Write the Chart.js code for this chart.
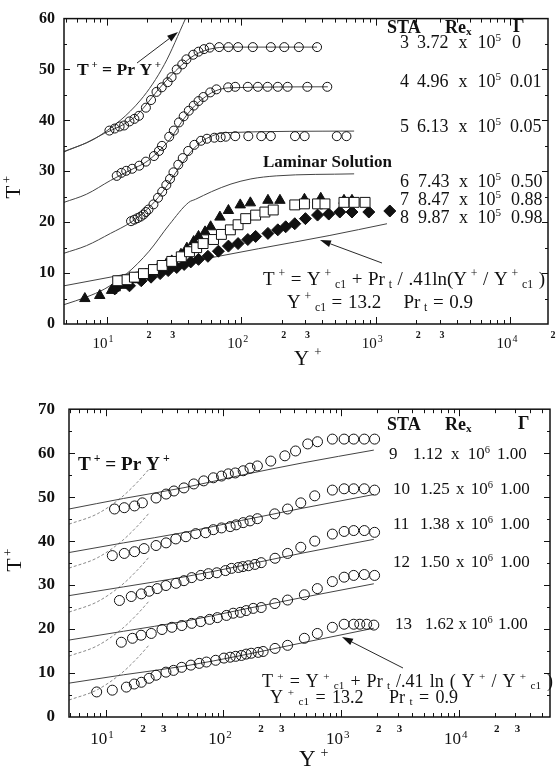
<!DOCTYPE html>
<html>
<head>
<meta charset="utf-8">
<script src="https://cdn.jsdelivr.net/npm/chart.js@4.4.1/dist/chart.umd.min.js"></script>
<style>
body { margin: 0; background: #fff; }
canvas { position: absolute; left: 0; }
#top { top: 0; }
#bot { top: 385px; }
</style>
</head>
<body>
<canvas id="top" width="556" height="385"></canvas>
<canvas id="bot" width="556" height="384"></canvas>
<script>
// ---------- upper panel: STA 3 - 8 ----------
var sta3Y = [10.5, 11.5, 12.5, 13.5, 14.8, 16.1, 17.4, 19.6, 21.4, 23.5, 25.7, 28.4, 30.4, 33.2, 36.5, 39.2, 44, 48.2, 52.9, 58.4, 68.6, 80.4, 94.8, 122, 166, 209, 268, 366];
var sta3T = [38.0, 38.4, 38.8, 39.0, 39.8, 40.3, 40.9, 42.5, 44.0, 45.6, 46.5, 47.5, 48.5, 50.0, 51.0, 52.0, 52.9, 53.5, 54.0, 54.3, 54.4, 54.4, 54.4, 54.4, 54.4, 54.4, 54.4, 54.4];
var sta4Y = [11.9, 12.9, 14.0, 15.5, 17.5, 19.6, 22.5, 24.5, 25.8, 29.2, 31.6, 34.5, 37.4, 40.8, 44.4, 48.2, 52.4, 58.9, 65.5, 80, 90.3, 112, 133, 157, 187, 221, 310, 436];
var sta4T = [29.1, 29.7, 30.1, 30.5, 31.1, 31.9, 33.0, 34.0, 35.0, 36.8, 38.0, 39.6, 40.8, 41.9, 42.9, 43.8, 44.6, 45.5, 46.1, 46.5, 46.6, 46.6, 46.6, 46.6, 46.6, 46.6, 46.6, 46.6];
var sta5Y = [15.2, 16.1, 17, 17.9, 18.8, 19.6, 20.5, 22.3, 24.1, 25.9, 27.8, 29.6, 31.4, 34.1, 36.8, 40.4, 44.9, 50.3, 55.7, 63.2, 70.4, 76.8, 90.3, 113, 141, 166, 251, 296, 513, 605];
var sta5T = [20.2, 20.5, 20.8, 21.1, 21.5, 22, 22.5, 23.5, 24.8, 26, 27.3, 28.5, 29.8, 31.3, 32.6, 34, 35.2, 36, 36.4, 36.6, 36.7, 36.8, 36.9, 36.9, 36.9, 36.9, 36.9, 36.9, 36.9, 36.9];
var sta6Y = [6.9, 8.9, 10.9, 11.6, 12.9, 14.3, 16.1, 17.9, 19.6, 21.9, 24.1, 27.8, 30.5, 35.7, 39.5, 44.4, 48.2, 53.9, 59.3, 69.5, 80.4, 98.4, 117, 158, 194, 295, 390, 580, 665];
var sta6T = [5.0, 5.6, 6.6, 7.1, 7.6, 8.1, 8.7, 9.3, 9.8, 10.4, 11.0, 11.8, 12.4, 13.7, 14.9, 16.2, 17.2, 18.1, 19.1, 21.0, 22.3, 23.4, 23.8, 24.3, 24.3, 24.5, 24.7, 24.3, 24.3];
var sta7Y = [12.1, 14.2, 16.1, 18.8, 22.3, 25.9, 30.5, 35.9, 41.3, 46.7, 52.1, 62.3, 71.3, 83.1, 94.8, 108, 128, 150, 173, 250, 295, 369, 419, 580, 690, 832];
var sta7T = [8.5, 8.7, 9.2, 9.9, 10.7, 11.5, 12.3, 13.2, 14.2, 15.0, 15.8, 16.6, 17.6, 18.5, 19.5, 20.7, 21.4, 22.0, 22.4, 23.4, 23.6, 23.6, 23.6, 23.9, 23.9, 23.9];
var sta8Y = [11.5, 12.1, 14.8, 18.1, 21.4, 25, 28.7, 33.2, 37.7, 42.2, 48.2, 56.6, 67.7, 80.4, 94.8, 112, 128, 158, 187, 214, 250, 300, 369, 447, 540, 665, 887, 1270];
var sta8T = [6.9, 7.5, 7.5, 8.5, 9.2, 9.9, 10.5, 11.1, 11.7, 12.2, 12.7, 13.3, 14.3, 15.3, 15.8, 16.6, 17.2, 17.8, 18.5, 19.1, 19.7, 20.7, 21.4, 21.6, 22.0, 22.0, 22.0, 22.2];

// predicted curves, upper panel
var fit3Y = [4.83, 7.1, 9.7, 12.5, 16.1, 19.6, 24.1, 29.6, 35.9, 44.9, 58.4, 81, 366];
var fit3T = [33.9, 35.6, 37.5, 38.8, 40.6, 43, 46, 48.6, 50.8, 52.8, 54, 54.4, 54.4];
var fit4Y = [4.83, 7.1, 10.7, 15.2, 19.6, 24.1, 29.6, 35.9, 43.1, 52.1, 63.2, 81.3, 440];
var fit4T = [23.9, 25.5, 28.2, 30.3, 31.8, 33.8, 36.3, 39.6, 42.3, 44.3, 45.7, 46.4, 46.6];
var fit5Y = [4.83, 7.1, 10.7, 15.2, 19.6, 24.1, 28.7, 34.1, 40.4, 49.4, 61.4, 76.8, 690];
var fit5T = [13.9, 15.4, 17.8, 20.0, 22.3, 24.8, 27.5, 30.5, 33.2, 35.6, 37.0, 37.6, 37.9];
var lamY = [4.83, 7.1, 9.7, 14.0, 20.7, 29.2, 40.8, 45.8, 60.2, 84, 118, 182, 690];
var lamT = [3.8, 5.3, 6.9, 9.8, 14.3, 19.5, 23.9, 24.5, 26.0, 27.5, 28.5, 29.1, 29.5];
var prY = [4.83, 8.9, 17.9, 26.9, 38.6];
var prT = [33.8, 37, 44, 51, 60];
var logY = [4.83, 13.4, 44.9, 135, 456, 1210];
var logT = [7.5, 9.7, 12.4, 14.8, 17.4, 19.7];

var topSta = ['3', '4', '5', '6', '7', '8'];
var topRe = ['3.72', '4.96', '6.13', '7.43', '8.47', '9.87'];
var topGamma = ['0', '0.01', '0.05', '0.50', '0.88', '0.98'];

// ---------- lower panel: STA 9 - 13 ----------
var sta9Y = [11.9, 14.4, 17.6, 20.5, 26.8, 32.6, 38, 46.2, 56, 68, 82.1, 96.3, 110, 126, 147, 168, 194, 252, 332, 409, 519, 628, 840, 1057, 1274, 1567, 1916];
var sta9T = [47.3, 47.6, 48.0, 48.7, 49.8, 50.7, 51.4, 52.1, 53.0, 53.7, 54.4, 54.8, 55.3, 55.5, 56.0, 56.6, 57.1, 58.2, 59.4, 60.5, 62.1, 62.6, 63.2, 63.2, 63.2, 63.2, 63.2];
var sta10Y = [11.4, 14.4, 17.6, 21.2, 26.8, 32.6, 39.4, 48, 58.2, 70.6, 82.1, 96.3, 114, 128, 147, 168, 194, 272, 350, 453, 595, 840, 1057, 1274, 1567, 1916];
var sta10T = [36.7, 37.2, 37.6, 38.3, 39.0, 39.6, 40.5, 41.0, 41.7, 41.9, 42.6, 43.0, 43.3, 43.7, 44.2, 44.6, 45.1, 46.2, 47.3, 48.7, 50.3, 51.6, 51.9, 51.9, 51.9, 51.6];
var sta11Y = [13.1, 16.5, 20.1, 23.4, 27.4, 32.5, 39.6, 46.2, 53.8, 64.2, 74.6, 87.8, 104, 117, 134, 146, 163, 185, 209, 274, 350, 453, 595, 840, 1057, 1274, 1567, 1916];
var sta11T = [26.5, 27.4, 28.0, 28.6, 29.2, 29.9, 30.4, 31.0, 31.7, 32.2, 32.6, 32.8, 33.3, 33.8, 34.0, 34.2, 34.4, 34.7, 35.1, 36.1, 37.2, 38.6, 40.0, 41.6, 42.2, 42.4, 42.4, 42.0];
var sta12Y = [13.6, 16.9, 20, 24.4, 30.1, 36.5, 44.3, 53.8, 64.1, 76.3, 88.7, 106, 121, 139, 156, 179, 209, 273, 350, 486, 626, 840, 1057, 1274, 1567, 1916];
var sta12T = [17.0, 17.9, 18.6, 19.0, 19.9, 20.4, 20.8, 21.3, 21.7, 22.2, 22.6, 23.1, 23.6, 23.8, 24.2, 24.7, 24.9, 25.8, 26.6, 27.8, 29.2, 30.8, 31.8, 32.2, 32.4, 32.2];
var sta13Y = [8.4, 11.4, 15, 17.5, 20.1, 23.4, 26.8, 32.5, 37.7, 44.2, 52.9, 62.3, 71.7, 85.9, 101, 114, 127, 142, 156, 172, 197, 217, 274, 350, 486, 626, 840, 1057, 1274, 1435, 1642, 1888];
var sta13T = [5.7, 6.1, 6.8, 7.5, 7.9, 8.8, 9.5, 10.2, 10.6, 11.3, 11.8, 12.2, 12.5, 12.9, 13.4, 13.6, 13.8, 14.0, 14.3, 14.5, 14.7, 14.9, 15.6, 16.3, 17.9, 19.0, 20.4, 21.1, 21.1, 21.1, 21.1, 20.9];

// log-law lines and T+ = Pr Y+ lines, lower panel
var bLogY = [4.89, 14.2, 47.2, 142, 472, 1888];
var bLog9T = [47.3, 49.7, 52.2, 55.0, 57.8, 60.7];
var bLog10T = [37.4, 39.6, 42.0, 44.7, 47.5, 50.6];
var bLog11T = [27.6, 29.6, 31.9, 34.4, 37.3, 40.4];
var bLog12T = [17.5, 19.5, 21.8, 24.4, 27.2, 30.3];
var bLog13T = [7.7, 9.6, 11.6, 14.0, 16.9, 20.2];
var bPrY = [4.89, 8.5, 13.7, 18.9, 23.6];
var bPr9T = [43.85, 46.2, 50, 53.6, 56.5];
var bPr10T = [33.85, 36.2, 40, 43.6, 46.5];
var bPr11T = [23.85, 26.2, 30, 33.6, 36.5];
var bPr12T = [13.85, 16.2, 20, 23.6, 26.5];
var bPr13T = [3.85, 6.2, 10, 13.6, 16.5];

var botSta = ['9', '10', '11', '12', '13'];
var botRe = ['1.12', '1.25', '1.38', '1.50', '1.62'];
var botGamma = ['1.00', '1.00', '1.00', '1.00', '1.00'];

var decades = [10, 100, 1000, 10000];
var minorLabels = [20, 30, 200, 300, 2000, 3000, 20000, 30000];

// ---------- helpers ----------
var SERIF = '"Liberation Serif", "Times New Roman", serif';

function pts(xs, ys) {
  return xs.map(function (x, i) { return { x: x, y: ys[i] }; });
}
function curve(xs, ys, color, dash) {
  return { data: pts(xs, ys), showLine: true, pointRadius: 0, borderColor: color, borderWidth: 1,
    borderDash: dash || [], cubicInterpolationMode: 'monotone', order: 2 };
}
function marks(xs, ys, style, radius, fill) {
  return { data: pts(xs, ys), showLine: false, pointStyle: style, pointRadius: radius,
    borderColor: '#111', borderWidth: 1, backgroundColor: fill, order: 1 };
}
function parse(s) {
  return s.split('|').map(function (p) {
    if (p.charAt(0) === '^') return [p.slice(1), 1];
    if (p.charAt(0) === '_') return [p.slice(1), 2];
    return [p, 0];
  });
}
// draws (or measures) a run of normal / superscript / subscript pieces;
// "extra" widens every blank so the run can match the scanned spacing
function rich(ctx, parts, x, y, size, bold, draw, extra) {
  var cx = x;
  extra = extra || 0;
  parts.forEach(function (p) {
    var s = p[1] ? size * 0.62 : size;
    ctx.font = (bold ? 'bold ' : '') + s.toFixed(1) + 'px ' + SERIF;
    var dy = p[1] === 1 ? -size * 0.3 : (p[1] === 2 ? size * 0.25 : 0);
    p[0].split(' ').forEach(function (w, k) {
      if (k > 0) cx += ctx.measureText(' ').width + extra;
      if (draw && w) ctx.fillText(w, cx, y + dy);
      cx += ctx.measureText(w).width;
    });
  });
  return cx - x;
}
function note(ctx, n) {
  var parts = parse(n.t);
  var size = n.size, extra = 0;
  if (n.w) {
    size = 20 * n.w / rich(ctx, parts, 0, 0, 20, n.b, false, 0);
    if (n.max && size > n.max) {
      size = n.max;
      var blanks = n.t.split(' ').length - 1;
      if (blanks > 0) extra = (n.w - rich(ctx, parts, 0, 0, size, n.b, false, 0)) / blanks;
    }
  }
  rich(ctx, parts, n.x, n.y, size, n.b, true, extra);
}
function arrow(ctx, x1, y1, x2, y2) {
  var ang = Math.atan2(y2 - y1, x2 - x1), L = 11, H = 3.5;
  var bx = x2 - L * Math.cos(ang), by = y2 - L * Math.sin(ang);
  ctx.beginPath(); ctx.moveTo(x1, y1); ctx.lineTo(bx, by); ctx.stroke();
  ctx.beginPath();
  ctx.moveTo(x2, y2);
  ctx.lineTo(bx + H * Math.sin(ang), by - H * Math.cos(ang));
  ctx.lineTo(bx - H * Math.sin(ang), by + H * Math.cos(ang));
  ctx.closePath(); ctx.fill();
}

// frame, inward ticks, x labels, axis titles and text notes
var paper = {
  id: 'paper',
  afterDatasetsDraw: function (chart, args, o) {
    var ctx = chart.ctx, a = chart.chartArea, sx = chart.scales.x, sy = chart.scales.y;
    ctx.save();
    ctx.strokeStyle = '#111';
    ctx.fillStyle = '#111';
    ctx.lineWidth = 1.5;
    ctx.strokeRect(a.left, a.top, a.right - a.left, a.bottom - a.top);
    ctx.lineWidth = 1;
    ctx.beginPath();
    for (var e = 0; e <= 5; e++) {
      for (var n = 1; n <= 9; n++) {
        var v = n * Math.pow(10, e);
        if (v < sx.min || v > sx.max) continue;
        var px = Math.round(sx.getPixelForValue(v)) + 0.5;
        var len = n === 1 ? 7 : 4;
        ctx.moveTo(px, a.bottom); ctx.lineTo(px, a.bottom - len);
        ctx.moveTo(px, a.top); ctx.lineTo(px, a.top + len);
      }
    }
    for (var t = 5; t < sy.max; t += 5) {
      var py = Math.round(sy.getPixelForValue(t)) + 0.5;
      var l2 = t % 10 === 0 ? 6 : 3;
      ctx.moveTo(a.left, py); ctx.lineTo(a.left + l2, py);
      ctx.moveTo(a.right, py); ctx.lineTo(a.right - l2, py);
    }
    ctx.stroke();

    // x tick labels: 10^n and the 2, 3 marks
    ctx.textBaseline = 'middle';
    ctx.textAlign = 'left';
    decades.forEach(function (d) {
      var c = sx.getPixelForValue(d) - 4;
      var ex = String(Math.round(Math.log10(d)));
      ctx.font = o.tickSize + 'px ' + SERIF;
      var w1 = ctx.measureText('10').width;
      ctx.font = Math.round(o.tickSize * 0.65) + 'px ' + SERIF;
      var w2 = ctx.measureText(ex).width;
      var x0 = c - (w1 + w2) / 2;
      ctx.font = o.tickSize + 'px ' + SERIF;
      ctx.fillText('10', x0, o.majorY);
      ctx.font = Math.round(o.tickSize * 0.65) + 'px ' + SERIF;
      ctx.fillText(ex, x0 + w1 + 1, o.majorY - o.tickSize * 0.3);
    });
    ctx.textAlign = 'center';
    ctx.font = 'bold ' + o.minorSize + 'px ' + SERIF;
    minorLabels.forEach(function (m) {
      if (m > sx.max * 1.12) return;
      var p = sx.getPixelForValue(m) + 2;
      ctx.fillText(String(m / Math.pow(10, Math.floor(Math.log10(m) + 1e-9))), p, o.minorY);
    });

    // axis titles
    var xt = o.xTitle;
    ctx.textAlign = 'left';
    ctx.font = xt.size + 'px ' + SERIF;
    ctx.fillText('Y', xt.x, xt.y);
    var wy = ctx.measureText('Y').width;
    ctx.font = Math.round(xt.size * 0.6) + 'px ' + SERIF;
    ctx.fillText('+', xt.x + wy + 5, xt.y - xt.size * 0.3);
    var yt = o.yTitle;
    ctx.save();
    ctx.translate(yt.x, yt.y);
    ctx.rotate(-Math.PI / 2);
    ctx.textAlign = 'center';
    ctx.font = yt.size + 'px ' + SERIF;
    var wt = ctx.measureText('T').width;
    ctx.fillText('T', 0, 0);
    ctx.font = Math.round(yt.size * 0.6) + 'px ' + SERIF;
    ctx.fillText('+', wt / 2 + 6, -yt.size * 0.3);
    ctx.restore();

    // text notes
    ctx.textAlign = 'left';
    o.notes.forEach(function (nt) { note(ctx, nt); });
    ctx.lineWidth = 0.9;
    o.arrows.forEach(function (ar) { arrow(ctx, ar[0], ar[1], ar[2], ar[3]); });
    ctx.restore();
  }
};

// rows of the STA / Re_x / Gamma table; lay = {y, num, re, reW, gam, size}
function tableNotes(sta, re, gam, exp, lay) {
  var out = [];
  sta.forEach(function (s, i) {
    out.push({ t: s, x: lay.num[i], y: lay.y[i], size: lay.size });
    out.push({ t: re[i] + ' x 10|^' + exp, x: lay.re[i], y: lay.y[i], w: lay.reW[i], max: lay.size });
    out.push({ t: gam[i], x: lay.gam[i], y: lay.y[i], size: lay.size });
  });
  return out;
}

function makeChart(id, datasets, xr, yMax, box, opts) {
  return new Chart(document.getElementById(id).getContext('2d'), {
    type: 'scatter',
    data: { datasets: datasets },
    options: {
      responsive: false,
      animation: false,
      devicePixelRatio: 1,
      layout: { padding: { top: box.top, right: box.right, left: 0, bottom: 0 } },
      scales: {
        x: {
          type: 'logarithmic', min: xr[0], max: xr[1],
          ticks: { display: false }, grid: { display: false, drawTicks: false }, border: { display: false },
          afterFit: function (s) { s.height = box.xh; }
        },
        y: {
          min: 0, max: yMax,
          ticks: { stepSize: 10, color: '#111', padding: box.pad, font: { family: 'Liberation Serif', size: box.ysize, weight: 'bold' } },
          grid: { display: false, drawTicks: false }, border: { display: false },
          afterFit: function (s) { s.width = box.yw; }
        }
      },
      plugins: { legend: { display: false }, tooltip: { enabled: false }, paper: opts }
    },
    plugins: [paper]
  });
}

// ---------- upper chart ----------
var lineC = '#444';
var topSets = [
  curve(fit3Y, fit3T, lineC), curve(prY, prT, lineC), curve(fit4Y, fit4T, lineC),
  curve(fit5Y, fit5T, lineC), curve(lamY, lamT, lineC), curve(logY, logT, lineC),
  marks(sta3Y, sta3T, 'circle', 4.5, 'rgba(0,0,0,0)'),
  marks(sta4Y, sta4T, 'circle', 4.5, 'rgba(0,0,0,0)'),
  marks(sta5Y, sta5T, 'circle', 4.5, 'rgba(0,0,0,0)'),
  marks(sta7Y, sta7T, 'rect', 7, '#fff'),
  marks(sta6Y, sta6T, 'triangle', 6, '#111'),
  marks(sta8Y, sta8T, 'rectRot', 6, '#111')
];
var topNotes = [
  { t: 'STA', x: 387, y: 28, size: 18, b: true },
  { t: 'Re|_x', x: 445, y: 28, size: 18, b: true },
  { t: 'Γ', x: 513, y: 27, size: 18, b: true },
  { t: 'Laminar Solution', x: 263, y: 163, w: 129, b: true },
  { t: 'T|^ +| = Pr Y|^ +', x: 77, y: 70, w: 84, b: true },
  { t: 'T|^ +| = Y|^ +|_ c1| + Pr|_ t| / .41ln(Y|^ +| / Y|^ +|_ c1| )', x: 263, y: 280, w: 282, max: 19 },
  { t: 'Y|^ +|_ c1| = 13.2    Pr|_ t| = 0.9', x: 287, y: 303, w: 186, max: 19 }
].concat(tableNotes(topSta, topRe, topGamma, '5', {
  y: [43, 82, 127, 182, 200, 218],
  num: [400, 400, 400, 400, 400, 400],
  re: [417, 417, 417, 418, 418, 418],
  reW: [84, 84, 84, 83, 83, 83],
  gam: [512, 510, 510, 511, 511, 511],
  size: 18
}));

makeChart('top', topSets, [4.83, 19000], 60,
  { top: 13, right: 3, xh: 61, yw: 64, pad: 9, ysize: 16 },
  { tickSize: 15, majorY: 344, minorY: 335, minorSize: 10,
    xTitle: { x: 294, y: 359, size: 21 }, yTitle: { x: 14, y: 192, size: 21 },
    notes: topNotes, arrows: [[137, 63, 178, 32], [382, 263, 320, 240]] });

// ---------- lower chart ----------
var prC = '#8a8a8a';
var botSets = [
  curve(bLogY, bLog9T, lineC), curve(bLogY, bLog10T, lineC), curve(bLogY, bLog11T, lineC),
  curve(bLogY, bLog12T, lineC), curve(bLogY, bLog13T, lineC),
  curve(bPrY, bPr9T, prC, [3, 2]), curve(bPrY, bPr10T, prC, [3, 2]), curve(bPrY, bPr11T, prC, [3, 2]),
  curve(bPrY, bPr12T, prC, [3, 2]), curve(bPrY, bPr13T, prC, [3, 2]),
  marks(sta9Y, sta9T, 'circle', 5, 'rgba(0,0,0,0)'),
  marks(sta10Y, sta10T, 'circle', 5, 'rgba(0,0,0,0)'),
  marks(sta11Y, sta11T, 'circle', 5, 'rgba(0,0,0,0)'),
  marks(sta12Y, sta12T, 'circle', 5, 'rgba(0,0,0,0)'),
  marks(sta13Y, sta13T, 'circle', 5, 'rgba(0,0,0,0)')
];
var botNotes = [
  { t: 'STA', x: 387, y: 40, size: 18, b: true },
  { t: 'Re|_x', x: 445, y: 40, size: 18, b: true },
  { t: 'Γ', x: 518, y: 39, size: 18, b: true },
  { t: 'T|^ +| = Pr Y|^ +', x: 78, y: 80, w: 92, b: true },
  { t: 'T|^ +| = Y|^ +|_ c1| + Pr|_ t| /.41 ln ( Y|^ +| / Y|^ +|_ c1| )', x: 262, y: 297, w: 291, max: 18 },
  { t: 'Y|^ +|_ c1| = 13.2    Pr|_ t| = 0.9', x: 270, y: 313, w: 188, max: 18 }
].concat(tableNotes(botSta, botRe, botGamma, '6', {
  y: [70, 105, 140, 178, 240],
  num: [389, 393, 393, 393, 395],
  re: [413, 420, 420, 420, 425],
  reW: [77, 73, 73, 73, 68],
  gam: [497, 500, 500, 500, 498],
  size: 17
}));

makeChart('bot', botSets, [4.89, 59000], 70,
  { top: 23, right: 1, xh: 52, yw: 69, pad: 14, ysize: 17 },
  { tickSize: 17, majorY: 355, minorY: 344, minorSize: 11,
    xTitle: { x: 299, y: 375, size: 23 }, yTitle: { x: 15, y: 180, size: 22 },
    notes: botNotes, arrows: [[403, 283, 342, 252]] });
</script>
</body>
</html>
